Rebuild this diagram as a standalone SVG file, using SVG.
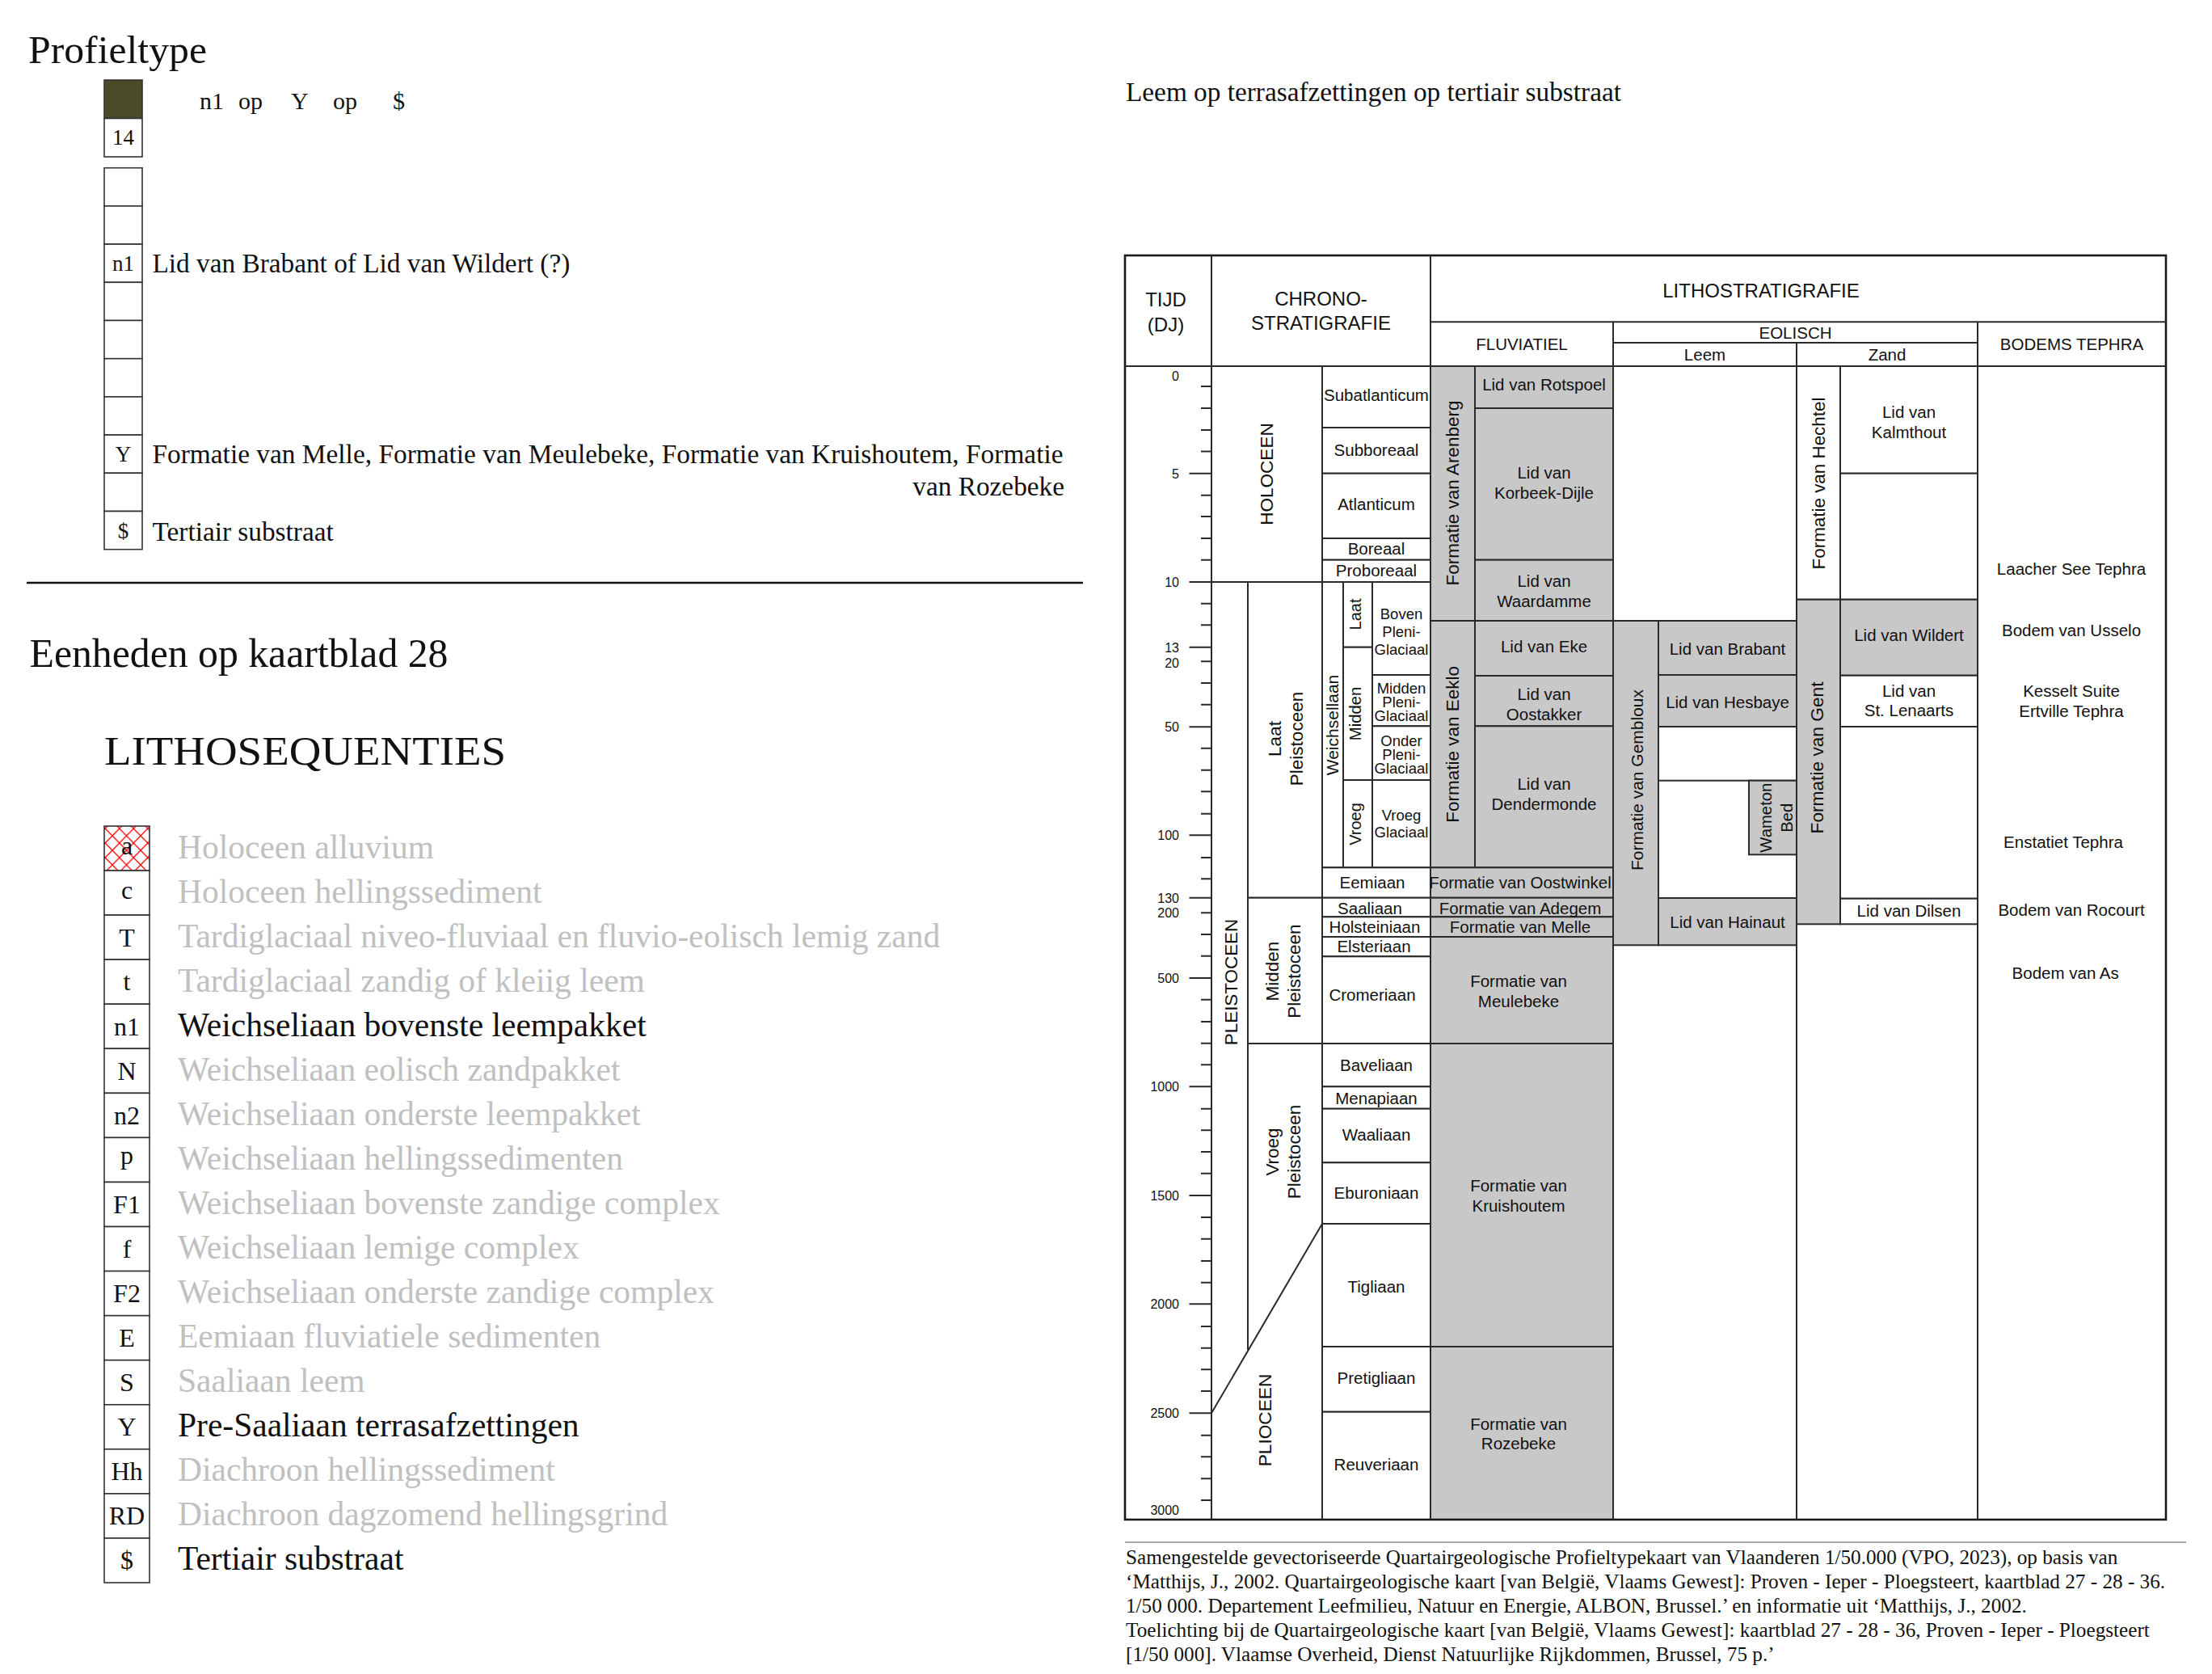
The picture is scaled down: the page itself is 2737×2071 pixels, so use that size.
<svg xmlns="http://www.w3.org/2000/svg" width="2737" height="2071" viewBox="0 0 2737 2071">
<style>
.ser{font-family:"Liberation Serif","Times New Roman",serif;fill:#111}
.sans{font-family:"Liberation Sans",Arial,sans-serif;fill:#111}
.bx{fill:#fff;stroke:#333;stroke-width:1.6}
.cw{fill:#fff;stroke:#2a2a2a;stroke-width:2}
.cg{fill:#c8c8c8;stroke:#2a2a2a;stroke-width:2}
.ln{stroke:#2a2a2a;stroke-width:2;fill:none}
.c{font-size:20.5px;text-anchor:middle}
.s{font-size:18.5px;text-anchor:middle}
.h{font-size:24px;text-anchor:middle}
.h2{font-size:20.5px;text-anchor:middle}
.tk{font-size:16px;text-anchor:end}
.lg{font-size:41.5px}
.gr{fill:#c0c0c0}
.bl{font-size:32px;text-anchor:middle}
.pl{font-size:27px;text-anchor:middle}
.pt{font-size:33.3px}
.ft{font-size:25.2px}
</style>
<defs>
<pattern id="hatch" patternUnits="userSpaceOnUse" x="130.25" y="1025" width="17.5" height="18">
<path d="M0,0 L17.5,18 M17.5,0 L0,18" stroke="#ff0000" stroke-width="1.3" fill="none"/>
</pattern>
</defs>
<rect width="2737" height="2071" fill="#fff"/>

<g id="profieltype">
<text class="ser" x="35" y="78" font-size="49" textLength="221" lengthAdjust="spacingAndGlyphs">Profieltype</text>
<rect x="129" y="99" width="47" height="47.5" fill="#4b4b28" stroke="#333" stroke-width="1.6"/>
<rect class="bx" x="129" y="146.5" width="47" height="47.5"/>
<text class="ser pl" x="152.5" y="179">14</text>
<g class="ser" font-size="30">
<text x="247" y="135">n1</text><text x="295" y="135">op</text><text x="360" y="135">Y</text><text x="412" y="135">op</text><text x="486" y="135">$</text>
</g>
<rect class="bx" x="129" y="207.7" width="47" height="47.2"/>
<rect class="bx" x="129" y="254.9" width="47" height="47.2"/>
<rect class="bx" x="129" y="302.1" width="47" height="47.2"/>
<rect class="bx" x="129" y="349.3" width="47" height="47.2"/>
<rect class="bx" x="129" y="396.5" width="47" height="47.2"/>
<rect class="bx" x="129" y="443.7" width="47" height="47.2"/>
<rect class="bx" x="129" y="490.9" width="47" height="47.2"/>
<rect class="bx" x="129" y="538.1" width="47" height="47.2"/>
<rect class="bx" x="129" y="585.3" width="47" height="47.2"/>
<rect class="bx" x="129" y="632.5" width="47" height="47.2"/>
<text class="ser pl" x="152.5" y="335">n1</text>
<text class="ser pl" x="152.5" y="571">Y</text>
<text class="ser pl" x="152.5" y="666">$</text>
<text class="ser pt" x="188.5" y="337">Lid van Brabant of Lid van Wildert (?)</text>
<text class="ser pt" x="188.5" y="573" textLength="1127" lengthAdjust="spacing">Formatie van Melle, Formatie van Meulebeke, Formatie van Kruishoutem, Formatie</text>
<text class="ser pt" x="1317" y="613" text-anchor="end">van Rozebeke</text>
<text class="ser pt" x="188.5" y="669">Tertiair substraat</text>
</g>

<line x1="33" y1="721" x2="1340" y2="721" stroke="#111" stroke-width="2.5"/>

<g id="eenheden">
<text class="ser" x="36.5" y="825" font-size="50" textLength="518" lengthAdjust="spacingAndGlyphs">Eenheden op kaartblad 28</text>
<text class="ser" x="129" y="946" font-size="51" textLength="497" lengthAdjust="spacingAndGlyphs">LITHOSEQUENTIES</text>
<rect x="129" y="1022" width="56" height="55.06" fill="url(#hatch)" stroke="#333" stroke-width="1.6"/>
<rect class="bx" x="129" y="1077.06" width="56" height="55.06"/>
<rect class="bx" x="129" y="1132.12" width="56" height="55.06"/>
<rect class="bx" x="129" y="1187.18" width="56" height="55.06"/>
<rect class="bx" x="129" y="1242.24" width="56" height="55.06"/>
<rect class="bx" x="129" y="1297.3" width="56" height="55.06"/>
<rect class="bx" x="129" y="1352.36" width="56" height="55.06"/>
<rect class="bx" x="129" y="1407.42" width="56" height="55.06"/>
<rect class="bx" x="129" y="1462.48" width="56" height="55.06"/>
<rect class="bx" x="129" y="1517.54" width="56" height="55.06"/>
<rect class="bx" x="129" y="1572.6" width="56" height="55.06"/>
<rect class="bx" x="129" y="1627.66" width="56" height="55.06"/>
<rect class="bx" x="129" y="1682.72" width="56" height="55.06"/>
<rect class="bx" x="129" y="1737.78" width="56" height="55.06"/>
<rect class="bx" x="129" y="1792.84" width="56" height="55.06"/>
<rect class="bx" x="129" y="1847.9" width="56" height="55.06"/>
<rect class="bx" x="129" y="1902.96" width="56" height="55.06"/>
<g class="ser bl">
<text x="157" y="1057">a</text>
<text x="157" y="1112">c</text>
<text x="157" y="1170.5">T</text>
<text x="157" y="1225">t</text>
<text x="157" y="1280.5">n1</text>
<text x="157" y="1335.5">N</text>
<text x="157" y="1390.5">n2</text>
<text x="157" y="1440">p</text>
<text x="157" y="1500.5">F1</text>
<text x="157" y="1555.5">f</text>
<text x="157" y="1611">F2</text>
<text x="157" y="1666">E</text>
<text x="157" y="1721">S</text>
<text x="157" y="1776">Y</text>
<text x="157" y="1831">Hh</text>
<text x="157" y="1886">RD</text>
<text x="157" y="1941">$</text>
</g>
<g class="ser lg">
<text class="gr" x="220" y="1062">Holoceen alluvium</text>
<text class="gr" x="220" y="1117">Holoceen hellingssediment</text>
<text class="gr" x="220" y="1171.5">Tardiglaciaal niveo-fluviaal en fluvio-eolisch lemig zand</text>
<text class="gr" x="220" y="1226.5">Tardiglaciaal zandig of kleiig leem</text>
<text x="220" y="1281.5">Weichseliaan bovenste leempakket</text>
<text class="gr" x="220" y="1336.5">Weichseliaan eolisch zandpakket</text>
<text class="gr" x="220" y="1391.5">Weichseliaan onderste leempakket</text>
<text class="gr" x="220" y="1446.5">Weichseliaan hellingssedimenten</text>
<text class="gr" x="220" y="1501.5">Weichseliaan bovenste zandige complex</text>
<text class="gr" x="220" y="1556.5">Weichseliaan lemige complex</text>
<text class="gr" x="220" y="1611.5">Weichseliaan onderste zandige complex</text>
<text class="gr" x="220" y="1666.5">Eemiaan fluviatiele sedimenten</text>
<text class="gr" x="220" y="1721.5">Saaliaan leem</text>
<text x="220" y="1776.5">Pre-Saaliaan terrasafzettingen</text>
<text class="gr" x="220" y="1831.5">Diachroon hellingssediment</text>
<text class="gr" x="220" y="1886.5">Diachroon dagzomend hellingsgrind</text>
<text x="220" y="1941.5">Tertiair substraat</text>
</g>
</g>

<text id="titel-rechts" class="ser" x="1393" y="125" font-size="33.3">Leem op terrasafzettingen op tertiair substraat</text>

<g id="chart">
<g id="cellen">
<rect class="cw" x="1499" y="453" width="137" height="267"/>
<rect class="cw" x="1544" y="720" width="92" height="390.7"/>
<rect class="cw" x="1544" y="1110.7" width="92" height="180.3"/>
<rect class="cw" x="1636" y="453" width="134" height="76"/>
<rect class="cw" x="1636" y="529" width="134" height="56.7"/>
<rect class="cw" x="1636" y="585.7" width="134" height="80.3"/>
<rect class="cw" x="1636" y="666" width="134" height="26.7"/>
<rect class="cw" x="1636" y="692.7" width="134" height="27.3"/>
<rect class="cw" x="1636" y="720" width="26" height="353.3"/>
<rect class="cw" x="1662" y="720" width="36" height="80.7"/>
<rect class="cw" x="1662" y="800.7" width="36" height="164.3"/>
<rect class="cw" x="1662" y="965" width="36" height="108.3"/>
<rect class="cw" x="1698" y="720" width="72" height="115"/>
<rect class="cw" x="1698" y="835" width="72" height="63.3"/>
<rect class="cw" x="1698" y="898.3" width="72" height="66.7"/>
<rect class="cw" x="1698" y="965" width="72" height="108.3"/>
<rect class="cw" x="1636" y="1073.3" width="134" height="37.4"/>
<rect class="cw" x="1636" y="1110.7" width="134" height="23.6"/>
<rect class="cw" x="1636" y="1134.3" width="134" height="24.7"/>
<rect class="cw" x="1636" y="1159" width="134" height="24.3"/>
<rect class="cw" x="1636" y="1183.3" width="134" height="107.7"/>
<rect class="cw" x="1636" y="1291" width="134" height="53.3"/>
<rect class="cw" x="1636" y="1344.3" width="134" height="27.4"/>
<rect class="cw" x="1636" y="1371.7" width="134" height="66.6"/>
<rect class="cw" x="1636" y="1438.3" width="134" height="75.7"/>
<rect class="cw" x="1636" y="1514" width="134" height="152"/>
<rect class="cw" x="1636" y="1666" width="134" height="80.7"/>
<rect class="cw" x="1636" y="1746.7" width="134" height="133.3"/>
<rect class="cg" x="1770" y="453" width="55" height="315"/>
<rect class="cg" x="1825" y="453" width="171" height="52"/>
<rect class="cg" x="1825" y="505" width="171" height="187.7"/>
<rect class="cg" x="1825" y="692.7" width="171" height="75.3"/>
<rect class="cg" x="1770" y="768" width="55" height="305.3"/>
<rect class="cg" x="1825" y="768" width="171" height="68"/>
<rect class="cg" x="1825" y="836" width="171" height="62.3"/>
<rect class="cg" x="1825" y="898.3" width="171" height="175"/>
<rect class="cg" x="1770" y="1073.3" width="226" height="37.4"/>
<rect class="cg" x="1770" y="1110.7" width="226" height="23.6"/>
<rect class="cg" x="1770" y="1134.3" width="226" height="24.7"/>
<rect class="cg" x="1770" y="1159" width="226" height="132"/>
<rect class="cg" x="1770" y="1291" width="226" height="375"/>
<rect class="cg" x="1770" y="1666" width="226" height="214"/>
<rect class="cg" x="1996" y="768" width="56" height="401.3"/>
<rect class="cg" x="2052" y="768" width="171" height="67"/>
<rect class="cg" x="2052" y="835" width="171" height="64"/>
<rect class="cw" x="2052" y="899" width="171" height="66.7"/>
<rect class="cg" x="2164" y="965.7" width="59" height="91.6"/>
<rect class="cg" x="2052" y="1111" width="171" height="58.3"/>
<rect class="cw" x="2223" y="453" width="54" height="288.7"/>
<rect class="cw" x="2277" y="453" width="170" height="132.7"/>
<rect class="cw" x="2277" y="585.7" width="170" height="156"/>
<rect class="cg" x="2223" y="741.7" width="54" height="401.6"/>
<rect class="cg" x="2277" y="741.7" width="170" height="94"/>
<rect class="cw" x="2277" y="835.7" width="170" height="63.3"/>
<rect class="cw" x="2277" y="899" width="170" height="212.7"/>
<rect class="cw" x="2277" y="1111.7" width="170" height="31.6"/>
</g>

<g id="raster">
<rect x="1392" y="316" width="1288" height="1564" fill="none" stroke="#1a1a1a" stroke-width="2.6"/>
<path class="ln" d="M1499,316 V1880 M1770,316 V1880 M1636,453 V1880 M1996,398.3 V1880 M2223,424 V1880 M2447,398.3 V1880 M1770,398.3 H2680 M1996,424 H2447 M1392,453 H2680 M1544,720 V1670 M1499,1748.3 L1636,1514"/>
</g>

<g id="tijd-as">
<path class="ln" d="M1471.5,585.7 H1499 M1471.5,720 H1499 M1471.5,800.7 H1499 M1471.5,899.3 H1499 M1471.5,1033.3 H1499 M1471.5,1110.7 H1499 M1471.5,1210 H1499 M1471.5,1344.3 H1499 M1471.5,1479 H1499 M1471.5,1613.3 H1499 M1471.5,1748.3 H1499"/>
<path class="ln" d="M1486,478 H1499 M1486,505 H1499 M1486,532 H1499 M1486,558.5 H1499 M1486,612.7 H1499 M1486,639 H1499 M1486,666 H1499 M1486,692.7 H1499 M1486,746.7 H1499 M1486,773.3 H1499 M1486,818.3 H1499 M1486,845 H1499 M1486,871.7 H1499 M1486,925.7 H1499 M1486,952.7 H1499 M1486,979.3 H1499 M1486,1006.7 H1499 M1486,1061 H1499 M1486,1087.3 H1499 M1486,1129.3 H1499 M1486,1156 H1499 M1486,1182.7 H1499 M1486,1236.7 H1499 M1486,1264 H1499 M1486,1290.7 H1499 M1486,1317.3 H1499 M1486,1371.7 H1499 M1486,1398.3 H1499 M1486,1425 H1499 M1486,1451.7 H1499 M1486,1506 H1499 M1486,1532.7 H1499 M1486,1560 H1499 M1486,1586.7 H1499 M1486,1641 H1499 M1486,1667.7 H1499 M1486,1694.3 H1499 M1486,1721 H1499 M1486,1775.7 H1499 M1486,1802.3 H1499 M1486,1829.3 H1499 M1486,1856 H1499"/>
<g class="sans tk">
<text x="1459" y="470.8">0</text>
<text x="1459" y="591.5">5</text>
<text x="1459" y="725.8">10</text>
<text x="1459" y="806.5">13</text>
<text x="1459" y="825.8">20</text>
<text x="1459" y="905">50</text>
<text x="1459" y="1039">100</text>
<text x="1459" y="1116.5">130</text>
<text x="1459" y="1135">200</text>
<text x="1459" y="1215.8">500</text>
<text x="1459" y="1350">1000</text>
<text x="1459" y="1484.8">1500</text>
<text x="1459" y="1619">2000</text>
<text x="1459" y="1754">2500</text>
<text x="1459" y="1873.5">3000</text>
</g>
</g>

<g id="koppen" class="sans">
<text class="h" x="1442.5" y="379.3">TIJD</text>
<text class="h" x="1442.5" y="409.6">(DJ)</text>
<text class="h" x="1634.5" y="378.3">CHRONO-</text>
<text class="h" x="1634.5" y="408.3">STRATIGRAFIE</text>
<text class="h" x="2179" y="368.3">LITHOSTRATIGRAFIE</text>
<text class="h2" x="1883" y="433.3">FLUVIATIEL</text>
<text class="h2" x="2221.5" y="419">EOLISCH</text>
<text class="h2" x="2109.5" y="445.7">Leem</text>
<text class="h2" x="2335" y="445.7">Zand</text>
<text class="h2" x="2563.5" y="433.3">BODEMS TEPHRA</text>
</g>

<g id="chrono-teksten" class="sans">
<text transform="translate(1566.6,586.5) rotate(-90)" y="8" text-anchor="middle" font-size="22.5">HOLOCEEN</text>
<text transform="translate(1523,1215) rotate(-90)" y="8" text-anchor="middle" font-size="22.4">PLEISTOCEEN</text>
<text transform="translate(1565.3,1757) rotate(-90)" y="8" text-anchor="middle" font-size="22.7">PLIOCEEN</text>
<text transform="translate(1576.8,914) rotate(-90)" y="8" text-anchor="middle" font-size="22.5">Laat</text>
<text transform="translate(1603.6,914) rotate(-90)" y="8" text-anchor="middle" font-size="22.5">Pleistoceen</text>
<text transform="translate(1574,1201.7) rotate(-90)" y="8" text-anchor="middle" font-size="22.5">Midden</text>
<text transform="translate(1601,1201.7) rotate(-90)" y="8" text-anchor="middle" font-size="22.5">Pleistoceen</text>
<text transform="translate(1574,1425) rotate(-90)" y="8" text-anchor="middle" font-size="22.5">Vroeg</text>
<text transform="translate(1601,1425) rotate(-90)" y="8" text-anchor="middle" font-size="22.5">Pleistoceen</text>
<text transform="translate(1648,897) rotate(-90)" y="7.5" text-anchor="middle" font-size="21">Weichsellaan</text>
<text transform="translate(1677,760) rotate(-90)" y="7" text-anchor="middle" font-size="20">Laat</text>
<text transform="translate(1677,883) rotate(-90)" y="7" text-anchor="middle" font-size="20.3">Midden</text>
<text transform="translate(1677,1019.5) rotate(-90)" y="7" text-anchor="middle" font-size="20">Vroeg</text>
<g class="c">
<text x="1703" y="495.6">Subatlanticum</text>
<text x="1703" y="564">Subboreaal</text>
<text x="1703" y="631.3">Atlanticum</text>
<text x="1703" y="685.6">Boreaal</text>
<text x="1703" y="713.3">Proboreaal</text>
<text x="1698" y="1099">Eemiaan</text>
<text x="1695" y="1130.6">Saaliaan</text>
<text x="1701" y="1154">Holsteiniaan</text>
<text x="1700" y="1178">Elsteriaan</text>
<text x="1698" y="1238.3">Cromeriaan</text>
<text x="1703" y="1324.6">Baveliaan</text>
<text x="1703" y="1365.6">Menapiaan</text>
<text x="1703" y="1410.6">Waaliaan</text>
<text x="1703" y="1483.3">Eburoniaan</text>
<text x="1703" y="1599">Tigliaan</text>
<text x="1703" y="1712.3">Pretigliaan</text>
<text x="1703" y="1819">Reuveriaan</text>
</g>
<g class="s">
<text x="1734" y="766">Boven</text>
<text x="1734" y="788.4">Pleni-</text>
<text x="1734" y="810">Glaciaal</text>
<text x="1734" y="858.4">Midden</text>
<text x="1734" y="875">Pleni-</text>
<text x="1734" y="891.7">Glaciaal</text>
<text x="1734" y="923.4">Onder</text>
<text x="1734" y="940">Pleni-</text>
<text x="1734" y="956.7">Glaciaal</text>
<text x="1734" y="1015">Vroeg</text>
<text x="1734" y="1036">Glaciaal</text>
</g>
</g>

<g id="litho-teksten" class="sans">
<text transform="translate(1797.4,610) rotate(-90)" y="8" text-anchor="middle" font-size="22.5">Formatie van Arenberg</text>
<text transform="translate(1797.4,920.8) rotate(-90)" y="8" text-anchor="middle" font-size="22.5">Formatie van Eeklo</text>
<text transform="translate(2025,965) rotate(-90)" y="8" text-anchor="middle" font-size="21">Formatie van Gembloux</text>
<text transform="translate(2250,598) rotate(-90)" y="8" text-anchor="middle" font-size="22.4">Formatie van Hechtel</text>
<text transform="translate(2248,937.5) rotate(-90)" y="8" text-anchor="middle" font-size="22.7">Formatie van Gent</text>
<text transform="translate(2185,1011.7) rotate(-90)" y="7" text-anchor="middle" font-size="20.3">Wameton</text>
<text transform="translate(2211,1011.7) rotate(-90)" y="7" text-anchor="middle" font-size="20.3">Bed</text>
<g class="c">
<text x="1910.5" y="483.3">Lid van Rotspoel</text>
<text x="1910.5" y="592.3">Lid van</text>
<text x="1910.5" y="616.6">Korbeek-Dijle</text>
<text x="1910.5" y="725.6">Lid van</text>
<text x="1910.5" y="750.6">Waardamme</text>
<text x="1910.5" y="807.3">Lid van Eke</text>
<text x="1910.5" y="865.6">Lid van</text>
<text x="1910.5" y="890.6">Oostakker</text>
<text x="1910.5" y="977.3">Lid van</text>
<text x="1910.5" y="1002.3">Dendermonde</text>
<text x="1881" y="1099">Formatie van Oostwinkel</text>
<text x="1881" y="1130.6">Formatie van Adegem</text>
<text x="1881" y="1154">Formatie van Melle</text>
<text x="1879" y="1220.6">Formatie van</text>
<text x="1879" y="1245.6">Meulebeke</text>
<text x="1879" y="1474">Formatie van</text>
<text x="1879" y="1499">Kruishoutem</text>
<text x="1879" y="1769">Formatie van</text>
<text x="1879" y="1793.3">Rozebeke</text>
<text x="2137.5" y="810">Lid van Brabant</text>
<text x="2137.5" y="875.6">Lid van Hesbaye</text>
<text x="2137.5" y="1148.3">Lid van Hainaut</text>
<text x="2362" y="517.3">Lid van</text>
<text x="2362" y="542.3">Kalmthout</text>
<text x="2362" y="793.3">Lid van Wildert</text>
<text x="2362" y="861.6">Lid van</text>
<text x="2362" y="886.3">St. Lenaarts</text>
<text x="2362" y="1134">Lid van Dilsen</text>
<text x="2563" y="710.6">Laacher See Tephra</text>
<text x="2563" y="787.3">Bodem van Usselo</text>
<text x="2563" y="862.3">Kesselt Suite</text>
<text x="2563" y="887.3">Ertville Tephra</text>
<text x="2553" y="1049">Enstatiet Tephra</text>
<text x="2563" y="1133">Bodem van Rocourt</text>
<text x="2555.7" y="1211.3">Bodem van As</text>
</g>
</g>
</g>

<g id="bron">
<line x1="1392" y1="1908" x2="2705" y2="1908" stroke="#8a8a8a" stroke-width="1.6"/>
<g class="ser ft">
<text x="1393" y="1935">Samengestelde gevectoriseerde Quartairgeologische Profieltypekaart van Vlaanderen 1/50.000 (VPO, 2023), op basis van</text>
<text x="1393" y="1965">‘Matthijs, J., 2002. Quartairgeologische kaart [van België, Vlaams Gewest]: Proven - Ieper - Ploegsteert, kaartblad 27 - 28 - 36.</text>
<text x="1393" y="1994.5">1/50 000. Departement Leefmilieu, Natuur en Energie, ALBON, Brussel.’ en informatie uit ‘Matthijs, J., 2002.</text>
<text x="1393" y="2025">Toelichting bij de Quartairgeologische kaart [van België, Vlaams Gewest]: kaartblad 27 - 28 - 36, Proven - Ieper - Ploegsteert</text>
<text x="1393" y="2055">[1/50 000]. Vlaamse Overheid, Dienst Natuurlijke Rijkdommen, Brussel, 75 p.’</text>
</g>
</g>
</svg>
